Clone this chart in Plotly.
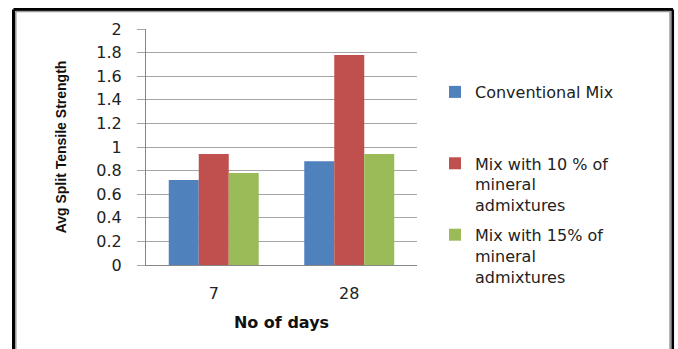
import plotly.graph_objects as go

# Data
days = ["7", "28"]
conventional = [0.72, 0.88]
mix_10 = [0.94, 1.78]
mix_15 = [0.78, 0.94]

series_names = [
    "Conventional Mix<br> <br> ",
    "Mix with 10 % of<br>mineral<br>admixtures",
    "Mix with 15% of<br>mineral<br>admixtures",
]
series_values = [conventional, mix_10, mix_15]
series_colors = ["#4F81BD", "#C0504D", "#9BBB59"]

W, H = 678, 349
PL, PR, PT, PB = 146, 417, 29, 265  # plot-area pixel edges


def px_x(p):
    return (p - PL) / (PR - PL)


def px_y(p):
    return (PB - p) / (PB - PT)


fig = go.Figure()
for i, (name, vals, col) in enumerate(zip(series_names, series_values, series_colors)):
    fig.add_trace(go.Bar(
        x=days, y=vals, name=name, marker_color=col,
        marker_line_width=0, legendgroup=f"g{i}",
    ))

text_font = "DejaVu Sans, Verdana, sans-serif"

fig.update_layout(
    width=W, height=H,
    margin=dict(l=PL, r=W - PR, t=PT, b=H - PB, pad=0),
    paper_bgcolor="white", plot_bgcolor="white",
    barmode="group", bargap=0.336, bargroupgap=0,
    font=dict(family=text_font, size=16, color="#222222"),
    legend=dict(
        x=px_x(435), y=px_y(75), xanchor="left", yanchor="top",
        valign="top", font=dict(size=16, family=text_font, color="#222222"),
        tracegroupgap=6, bgcolor="rgba(0,0,0,0)",
    ),
    showlegend=True,
)

fig.update_yaxes(
    range=[0, 2], dtick=0.2, tickformat="~g",
    showgrid=True, gridcolor="#A6A6A6", gridwidth=1,
    showline=True, linecolor="#868686", linewidth=1,
    ticks="outside", ticklen=8, tickcolor="#A6A6A6",
    ticklabelstandoff=12,
    zeroline=False,
    title=dict(text="<b>Avg Split Tensile Strength</b>",
               font=dict(family="Liberation Sans, Arial, sans-serif", size=14, color="#111111"),
               standoff=26),
)
fig.update_xaxes(
    showline=True, linecolor="#868686", linewidth=1,
    ticks="", ticklabelstandoff=14,
    title=dict(text="<b>No of days</b>",
               font=dict(family=text_font, size=16, color="#111111"),
               standoff=14),
)

# Outer frame: black edge with a grey inner rule on left, top and right
frame = [
    (px_x(13.5), px_y(9.5), px_x(13.5), px_y(360), "black", 3),
    (px_x(13.5), px_y(9.5), px_x(673), px_y(9.5), "black", 3),
    (px_x(672.7), px_y(9.5), px_x(672.7), px_y(360), "black", 2.7),
    (px_x(15.8), px_y(11.5), px_x(15.8), px_y(360), "#999999", 1.5),
    (px_x(15.8), px_y(11.5), px_x(670.3), px_y(11.5), "#999999", 1.5),
    (px_x(670.3), px_y(11.5), px_x(670.3), px_y(360), "#999999", 2),
]
for x0, y0, x1, y1, c, w in frame:
    fig.add_shape(type="line", xref="paper", yref="paper",
                  x0=x0, y0=y0, x1=x1, y1=y1, line=dict(color=c, width=w))

fig.write_html("out.html")
